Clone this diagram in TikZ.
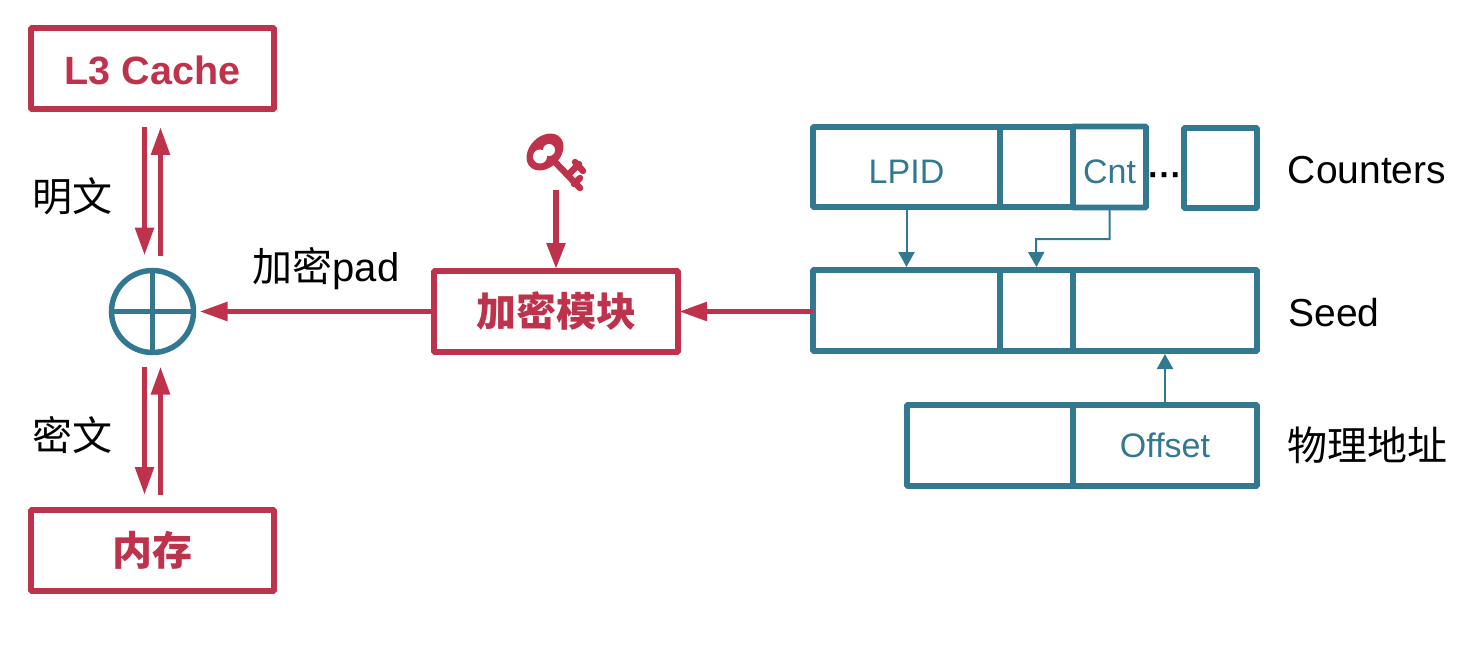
\documentclass[tikz,border=0pt]{standalone}
\usepackage{fontspec}
\setmainfont{Liberation Sans}
\newfontfamily\cjk{Noto Sans CJK SC}
\usetikzlibrary{positioning,arrows.meta}
\definecolor{myred}{RGB}{190,50,75}
\definecolor{myteal}{RGB}{50,120,145}
\begin{document}
\begin{tikzpicture}[x=1pt,y=-1pt,node distance=0pt,outer sep=0pt,
redb/.style={
  draw=myred,
  line width=5.7pt,
  rounded corners=1pt,
  minimum width=243pt,
  minimum height=81pt,
  text=myred,
  font={\fontsize{39.5}{44}\selectfont\bfseries}},
tealb/.style={
  draw=myteal,
  line width=5.7pt,
  rounded corners=1pt,
  minimum height=81pt,
  text=myteal,
  font={\fontsize{34}{40}\selectfont}},
lab/.style={font={\fontsize{39}{44}\selectfont},text=black},
zhlab/.style={font={\fontsize{40}{44}\selectfont\cjk},text=black},
redarrow/.style={draw=myred,line width=5.5pt,-{Triangle[length=28pt,width=18pt]}},
tealarrow/.style={draw=myteal,line width=2pt,-{Triangle[length=15pt,width=16pt]}},
]
\useasboundingbox (0,0) rectangle (1478,650);
% left column
\node[redb,text height=32.3pt,text depth=0pt] (Cache) at (152.5,68.5) {L3 Cache};
\node[redb,font={\fontsize{40}{44}\selectfont\cjk\bfseries}] (Mem) at (152.5,550.5) {内存};
\node[circle,draw=myteal,line width=5.5pt,minimum size=82pt] (Xor) at (152.5,311.5) {};
\draw[myteal,line width=5.5pt] (Xor.north) -- (Xor.south) (Xor.west) -- (Xor.east);
\node[zhlab] (Plain) at (72,196) {明文};
\node[zhlab] (Cipher) at (72,435) {密文};
% encryption module and key
\node[redb,font={\fontsize{40}{44}\selectfont\cjk\bfseries},minimum width=244pt] (Enc) at (556,311.5) {加密模块};
\node[zhlab] (Pad) at (326,269) {加密{\rmfamily pad}};
\fill[myred] (545,152) ellipse [x radius=21pt,y radius=15.5pt,rotate=45];
\fill[white] (540,156.5) circle (7pt) (549,150) circle (6pt);
\draw[myred,line width=6.5pt,line cap=round] (555,162) -- (580,188) (568,175) -- (579,164)
  (575,162) -- (583,171) (574,184) -- (580,178);
\coordinate (KeyEnd) at (556,190);
% seed row
\node[tealb,minimum width=187pt] (SeedA) at (906.5,310.5) {};
\node[tealb,minimum width=73pt,right=of SeedA] (SeedB) {};
\node[tealb,minimum width=184pt,right=of SeedB] (SeedC) {};
% counters row
\node[tealb,minimum width=187pt,minimum height=80pt,text height=32.3pt,text depth=0pt] (CntA) at (906.5,167) {LPID};
\node[tealb,minimum width=73pt,minimum height=80pt,right=of CntA] (CntB) {};
\node[tealb,minimum width=73pt,text height=32.3pt,text depth=0pt,right=of CntB] (CntC) {Cnt};
\node[tealb,minimum width=73pt,minimum height=80pt] (CntD) at (1220.5,168) {};
\node[font={\fontsize{34}{40}\selectfont\bfseries}] (Dots) at (1165,180) {···};
% address row
\node[tealb,minimum width=166pt] (AddrA) at (990,445.5) {};
\node[tealb,minimum width=184pt,right=of AddrA] (AddrB) {Offset};
% labels
\node[lab] (Counters) at (1367,170) {Counters};
\node[lab] (SeedLab) at (1334,313) {Seed};
\node[zhlab] (Addr) at (1367,445) {物理地址};
% connectors
\draw[redarrow] ([xshift=-8pt,yshift=-18pt]Cache.south) -- ([xshift=-8pt,yshift=15pt]Xor.north);
\draw[redarrow] ([xshift=8pt,yshift=15pt]Xor.north) -- ([xshift=8pt,yshift=-18pt]Cache.south);
\draw[redarrow] ([xshift=-8pt,yshift=-14pt]Xor.south) -- ([xshift=-8pt,yshift=15pt]Mem.north);
\draw[redarrow] ([xshift=8pt,yshift=15pt]Mem.north) -- ([xshift=8pt,yshift=-14pt]Xor.south);
\draw[redarrow] (Enc.west) -- ([xshift=6pt]Xor.east);
\draw[redarrow] (SeedA.west |- Enc.east) -- ([xshift=1pt]Enc.east);
\draw[redarrow,-{Triangle[length=26pt,width=18pt]}] (KeyEnd) -- ([yshift=2pt]Enc.north);
\draw[tealarrow] (CntA.south) -- ([yshift=3pt]SeedA.north);
\draw[tealarrow] (CntC.south) |- (1036,239) -- ([yshift=3pt]SeedB.north);
\draw[tealarrow] (AddrB.north) -- ([yshift=-3pt]SeedC.south);
\end{tikzpicture}
\end{document}
